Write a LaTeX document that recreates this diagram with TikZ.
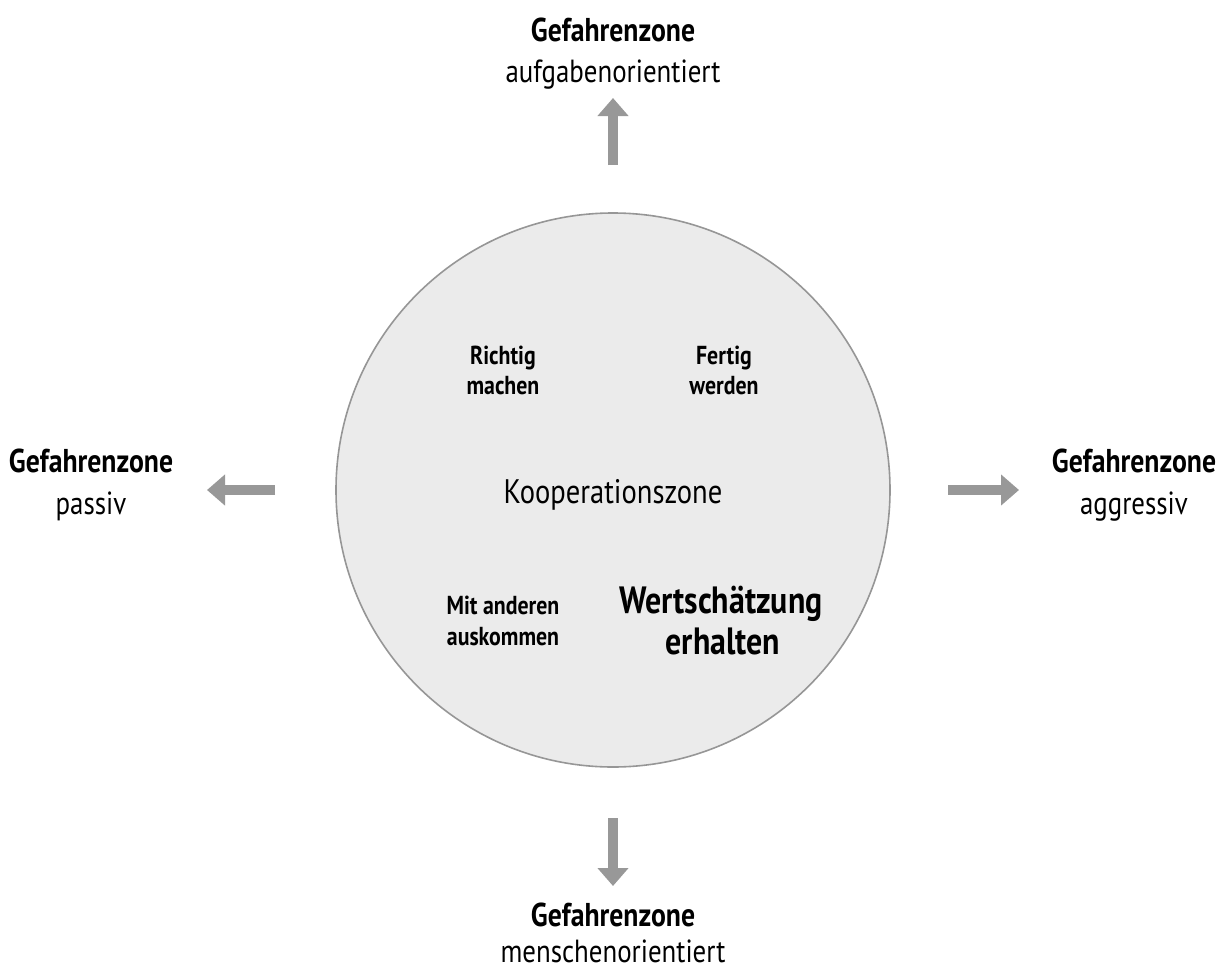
\documentclass[tikz,border=0pt]{standalone}
\usepackage{fontspec}
\setmainfont{PT Sans}[FakeStretch=0.84]
\usetikzlibrary{arrows.meta}
\definecolor{arrowgray}{RGB}{152,152,152}
\definecolor{circfill}{RGB}{235,235,235}
\definecolor{circline}{RGB}{150,150,150}
\tikzset{
  zonehead/.style={anchor=base, inner sep=0pt, font=\fontsize{16.5pt}{16.5pt}\selectfont\bfseries},
  zonesub/.style={anchor=base, inner sep=0pt, font=\fontsize{16pt}{16pt}\selectfont},
  smalllabel/.style={anchor=base, inner sep=0pt, font=\fontsize{13pt}{13pt}\selectfont\bfseries},
  biglabel/.style={anchor=base, inner sep=0pt, font=\fontsize{19pt}{19pt}\selectfont\bfseries},
  coop/.style={anchor=base, inner sep=0pt, font=\fontsize{17pt}{17pt}\selectfont},
  bigarrow/.style={draw=arrowgray, line width=5pt, -{Triangle[length=9pt,width=15pt]}},
  zonecircle/.style={circle, draw=circline, fill=circfill, line width=0.8pt, inner sep=0pt}
}
\begin{document}
\begin{tikzpicture}[x=0.5pt,y=-0.5pt]
\useasboundingbox (0,0) rectangle (1226,969);
% circle
\node[zonecircle, minimum size=277pt] (circ) at (613,490) {};
% top
\node[zonehead] (th) at (613,41) {Gefahrenzone};
\node[zonesub] (ts) at (613,82) {aufgabenorientiert};
% left
\node[zonehead] (lh) at (91,472) {Gefahrenzone};
\node[zonesub] (ls) at (91,514) {passiv};
% right
\node[zonehead] (rh) at (1134,472) {Gefahrenzone};
\node[zonesub] (rs) at (1134,514) {aggressiv};
% bottom
\node[zonehead] (bh) at (613,926) {Gefahrenzone};
\node[zonesub] (bs) at (613,962) {menschenorientiert};
% arrows
\coordinate (ua0) at (613,165); \coordinate (ua1) at (613,98);
\coordinate (la0) at (275,490); \coordinate (la1) at (207,490);
\coordinate (ra0) at (948,490); \coordinate (ra1) at (1019,490);
\coordinate (da0) at (613,818); \coordinate (da1) at (613,886);
\draw[bigarrow] (ua0) -- (ua1);
\draw[bigarrow] (la0) -- (la1);
\draw[bigarrow] (ra0) -- (ra1);
\draw[bigarrow] (da0) -- (da1);
% inner labels
\node[smalllabel] (r1) at (503,364) {Richtig};
\node[smalllabel] (r2) at (503,394) {machen};
\node[smalllabel] (f1) at (724,364) {Fertig};
\node[smalllabel] (f2) at (724,394) {werden};
\node[coop] (k) at (613,503) {Kooperationszone};
\node[smalllabel] (m1) at (503,614) {Mit anderen};
\node[smalllabel] (m2) at (503,645) {auskommen};
\node[biglabel] (w1) at (721,613) {Wertschätzung};
\node[biglabel] (w2) at (723,654) {erhalten};
\end{tikzpicture}
\end{document}
